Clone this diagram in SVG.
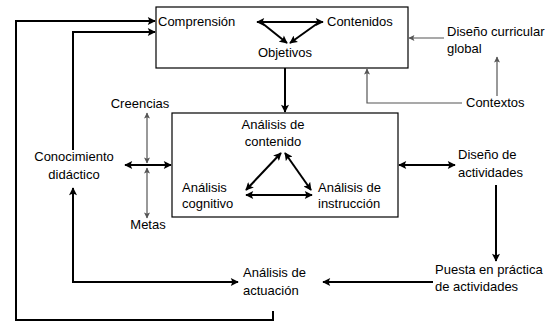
<svg xmlns="http://www.w3.org/2000/svg" width="554" height="327" viewBox="0 0 554 327">
<defs>
<marker id="ab" viewBox="0 0 10 10" refX="9" refY="5" markerWidth="9" markerHeight="8" markerUnits="userSpaceOnUse" orient="auto-start-reverse">
<path d="M0,0 L10,5 L0,10 L2,5 z" fill="#000"/>
</marker>
<marker id="ag" viewBox="0 0 10 10" refX="9" refY="5" markerWidth="7" markerHeight="6" markerUnits="userSpaceOnUse" orient="auto-start-reverse">
<path d="M0,0 L10,5 L0,10 L2,5 z" fill="#555"/>
</marker>
<style>
text{font-family:"Liberation Sans",Arial,sans-serif;font-size:13px;fill:#000}
.m{text-anchor:middle}
.box{fill:#fff;stroke:#000;stroke-width:1.2}
.b{fill:none;stroke:#000;stroke-width:2}
.g{fill:none;stroke:#555;stroke-width:1.2}
.be{marker-end:url(#ab)}
.bb{marker-start:url(#ab);marker-end:url(#ab)}
.ge{marker-end:url(#ag)}
.gb{marker-start:url(#ag);marker-end:url(#ag)}
</style>
</defs>
<g id="box-top"><rect class="box" x="156" y="7" width="252" height="61"/></g>
<g id="box-mid"><rect class="box" x="172" y="113" width="226" height="104"/></g>
<g id="connectors">
<path class="b be" d="M285,68 V112"/>
<path class="b be" d="M273,311 V320 H16 V21 H155"/>
<path class="b be" d="M73,150 V32 H155"/>
<path class="b bb" d="M73,188 V282 H238"/>
<path class="b bb" d="M125,165 H171"/>
<path class="b bb" d="M399,165 H455"/>
<path class="b be" d="M496,185 V261"/>
<path class="b be" d="M433,282 H323"/>
<path class="b bb" d="M257,22 H323"/>
<path class="b be" d="M262,23 L287,43"/>
<path class="b be" d="M318,23 L290,43"/>
<path class="b bb" d="M281,153 L246,190"/>
<path class="b bb" d="M285,153 L311,190"/>
<path class="b bb" d="M246,195 H312"/>
<path class="g ge" d="M444,38 H409"/>
<path class="g ge" d="M462,103 H367 V69"/>
<path class="g ge" d="M497,96 V57"/>
<path class="g gb" d="M147,113 V163"/>
<path class="g gb" d="M147,168 V218"/>
</g>
<g id="comprension"><text x="158" y="26">Comprensión</text></g>
<g id="contenidos"><text x="327" y="26">Contenidos</text></g>
<g id="objetivos"><text class="m" x="285" y="57">Objetivos</text></g>
<g id="diseno-curricular"><text x="447" y="36">Diseño curricular</text><text x="447" y="53">global</text></g>
<g id="contextos"><text x="466" y="107">Contextos</text></g>
<g id="creencias"><text class="m" x="140" y="108">Creencias</text></g>
<g id="metas"><text class="m" x="148" y="229">Metas</text></g>
<g id="conocimiento"><text class="m" x="74" y="161">Conocimiento</text><text class="m" x="74" y="179">didáctico</text></g>
<g id="analisis-contenido"><text class="m" x="273" y="129">Análisis de</text><text class="m" x="273" y="146">contenido</text></g>
<g id="analisis-cognitivo"><text x="182" y="192">Análisis</text><text x="182" y="208">cognitivo</text></g>
<g id="analisis-instruccion"><text x="318" y="192">Análisis de</text><text x="318" y="208">instrucción</text></g>
<g id="diseno-actividades"><text x="458" y="159">Diseño de</text><text x="458" y="177">actividades</text></g>
<g id="puesta"><text x="435" y="274">Puesta en práctica</text><text x="435" y="291">de actividades</text></g>
<g id="analisis-actuacion"><text x="243" y="277">Análisis de</text><text x="243" y="295">actuación</text></g>
</svg>
